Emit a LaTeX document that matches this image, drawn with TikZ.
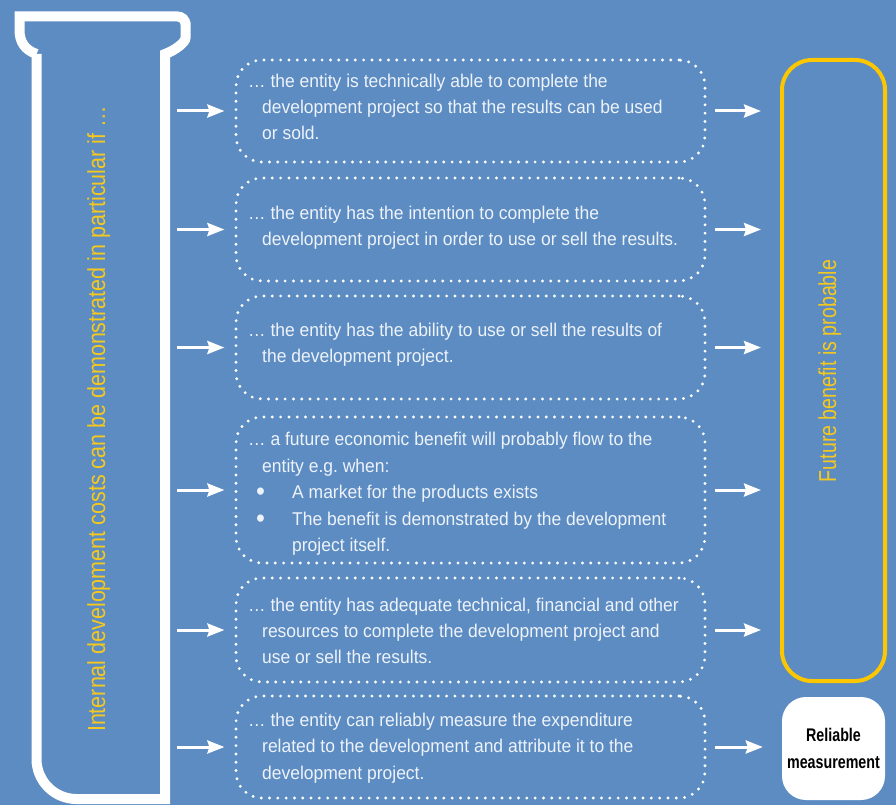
\documentclass[tikz,border=0pt]{standalone}
\usepackage{fontspec}
\setmainfont{Liberation Sans}
\newfontfamily\bodyfont{Liberation Sans}[FakeStretch=0.945]
\newfontfamily\tubefont{Liberation Sans}[FakeStretch=0.87]
\newfontfamily\futfont{Liberation Sans}[FakeStretch=0.80]
\newfontfamily\relfont{Liberation Sans}[FakeStretch=0.78]
\usetikzlibrary{arrows.meta}
\definecolor{bg}{RGB}{92,140,194}
\definecolor{gold}{RGB}{252,198,0}
\definecolor{goldtxt}{RGB}{245,200,30}
\definecolor{txt}{RGB}{238,243,250}
\newcommand{\bul}{\hspace*{8pt}\makebox[36pt][l]{\raisebox{-2pt}{\scalebox{1.45}{•}}}}
\tikzset{
  dotbox/.style={draw=white, line width=3.2pt, line cap=round, dash pattern=on 0pt off 8.3pt,
    rounded corners=26pt, minimum width=469pt},
  boxtext/.style={anchor=west, inner sep=0pt, align=left, text=txt,
    font=\bodyfont\fontsize{18.5}{26.3}\selectfont},
  arr/.style={draw=white, line width=3pt, -{Stealth[length=17pt,width=13pt,inset=2pt]}},
  tubeline/.style={draw=white, line width=10pt},
  futbox/.style={draw=gold, line width=4pt, rounded corners=30pt, minimum width=103pt, minimum height=621pt},
  relbox/.style={fill=white, rounded corners=24pt, minimum width=103pt, minimum height=103pt,
    align=center, text=black, font=\relfont\bfseries\fontsize{18.3}{27}\selectfont},
  vlabel/.style={rotate=90, anchor=base, text=goldtxt}
}
\begin{document}
\begin{tikzpicture}[x=1pt, y=-1pt]
\useasboundingbox (0,0) rectangle (896,805);
\fill[bg] (0,0) rectangle (896,805);

% tube
\draw[tubeline] (36.5,54) .. controls (25,50) and (19.5,42) .. (19.5,30) -- (19.5,16.5)
  [rounded corners=8pt] -- (185.5,16.5) -- (185.5,30)
  [sharp corners] .. controls (185.5,42) and (176,50) .. (165,54) -- (165,799)
  [rounded corners=40pt] -- (36.5,799) -- (36.5,54);
\node[vlabel, font=\tubefont\fontsize{24.7}{30}\selectfont] (tubelabel) at (105,419)
  {Internal development costs can be demonstrated in particular if …};

% condition boxes
\node[dotbox, minimum height=102pt] (b1) at (470.5,111) {};
\node[dotbox, minimum height=103pt] (b2) at (470.5,229.5) {};
\node[dotbox, minimum height=103pt] (b3) at (470.5,347.5) {};
\node[dotbox, minimum height=146pt] (b4) at (470.5,490) {};
\node[dotbox, minimum height=104pt] (b5) at (470.5,630) {};
\node[dotbox, minimum height=102pt] (b6) at (470.5,747) {};

\node[boxtext] (t1) at (248,107)
  {… the entity is technically able to complete the\\
   \hspace*{14pt}development project so that the results can be used\\
   \hspace*{14pt}or sold.};
\node[boxtext] (t2) at (248,228)
  {… the entity has the intention to complete the\\
   \hspace*{14pt}development project in order to use or sell the results.};
\node[boxtext] (t3) at (248,345)
  {… the entity has the ability to use or sell the results of\\
   \hspace*{14pt}the development project.};
\node[boxtext, font=\bodyfont\fontsize{18.5}{26.5}\selectfont] (t4) at (248,494)
  {… a future economic benefit will probably flow to the\\
   \hspace*{14pt}entity e.g.\ when:\\
   \bul A market for the products exists\\
   \bul The benefit is demonstrated by the development\\
   \hspace*{44pt}project itself.};
\node[boxtext] (t5) at (248,631)
  {… the entity has adequate technical, financial and other\\
   \hspace*{14pt}resources to complete the development project and\\
   \hspace*{14pt}use or sell the results.};
\node[boxtext] (t6) at (248,748)
  {… the entity can reliably measure the expenditure\\
   \hspace*{14pt}related to the development and attribute it to the\\
   \hspace*{14pt}development project.};

% right boxes
\node[futbox] (fut) at (833.5,370.5) {};
\node[vlabel, font=\futfont\fontsize{24.5}{30}\selectfont] (futlabel) at (836,371) {Future benefit is probable};
\node[relbox] (rel) at (833.5,748.5) {Reliable\\measurement};

% arrows
\foreach \i in {1,...,6} {
  \coordinate (la\i) at (177,0 |- b\i.west);
  \draw[arr, shorten >=10pt] (la\i) -- (b\i.west);
}
\foreach \i in {1,...,5} {
  \draw[arr, shorten <=8pt, shorten >=19pt] (b\i.east) -- (b\i.east -| fut.west);
}
\draw[arr, shorten <=8pt, shorten >=19pt] (b6.east) -- (b6.east -| rel.west);
\end{tikzpicture}
\end{document}
